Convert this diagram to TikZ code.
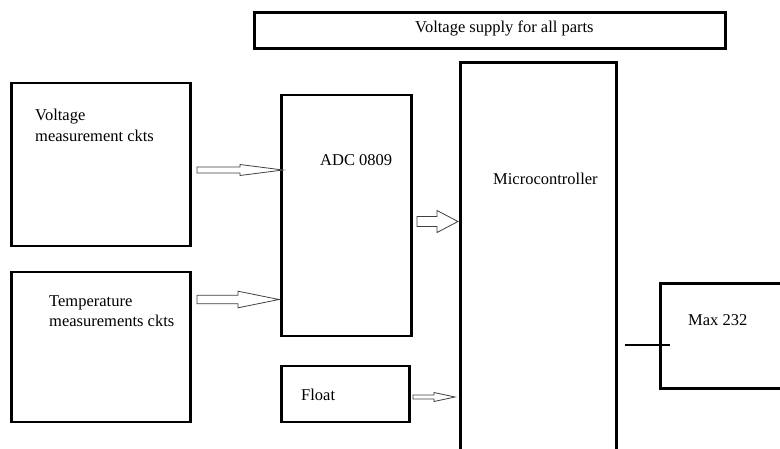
\documentclass[tikz,border=0pt]{standalone}
\usepackage{fontspec}
\setmainfont{Liberation Serif}
\begin{document}
\begin{tikzpicture}[x=1pt,y=-1pt,
  blk/.style={draw=black,line width=2.8pt,inner sep=0pt,outer sep=0pt},
  lbl/.style={anchor=base west,inner sep=0pt,font=\fontsize{16.5}{20}\selectfont},
  harrow/.style={draw=black!75,line width=0.8pt,fill=white,line join=miter}]
\useasboundingbox (0,0) rectangle (780,448);
\clip (0,0) rectangle (780,448);
% boxes
\node[blk,anchor=north west,minimum width=471pt,minimum height=36pt] (supply) at (254.5,12.5) {};
\node[blk,anchor=north west,minimum width=179pt,minimum height=163pt] (volt) at (11.5,83) {};
\node[blk,anchor=north west,minimum width=179pt,minimum height=150pt] (temp) at (11.5,272) {};
\node[blk,anchor=north west,minimum width=130pt,minimum height=241pt] (adc) at (281.5,95) {};
\node[blk,anchor=north west,minimum width=128pt,minimum height=56pt] (float) at (281.5,366) {};
\node[blk,anchor=north west,minimum width=156pt,minimum height=420pt] (mcu) at (460.5,62.5) {};
\node[blk,anchor=north west,minimum width=140pt,minimum height=105pt] (max) at (660.5,283.5) {};
% labels
\node[lbl] (tsupply) at (415,32) {Voltage supply for all parts};
\node[lbl] (tvolt1) at (35,120) {Voltage};
\node[lbl] (tvolt2) at (35,141) {measurement ckts};
\node[lbl] (ttemp1) at (49,306) {Temperature};
\node[lbl] (ttemp2) at (49,326) {measurements ckts};
\node[lbl] (tadc) at (320,165) {ADC 0809};
\node[lbl] (tmcu) at (493,184) {Microcontroller};
\node[lbl] (tfloat) at (301,400) {Float};
\node[lbl] (tmax) at (688,325) {Max 232};
% hollow block arrows
% #1 x start, #2 x head, #3 x tip, #4 y, #5 shaft half, #6 head half
\newcommand\myharrow[6]{%
  \draw[harrow] (#1,#4-#5) -- (#2,#4-#5) -- (#2,#4-#6) -- (#3,#4) -- (#2,#4+#6) -- (#2,#4+#5) -- (#1,#4+#5) -- cycle;}
\myharrow{197}{240}{283}{170}{3}{5.5}
\myharrow{197}{238}{279}{299.5}{4.3}{8.3}
\myharrow{417}{437}{458}{221.5}{5}{11}
\myharrow{413}{434}{455}{397}{2}{4.5}
% max line
\draw[line width=1.2pt] (mcu.east |- 0,345) ++(8,0) coordinate (mstart) -- (mstart -| max.west) -- ++(9,0) coordinate (mend);
\end{tikzpicture}
\end{document}
